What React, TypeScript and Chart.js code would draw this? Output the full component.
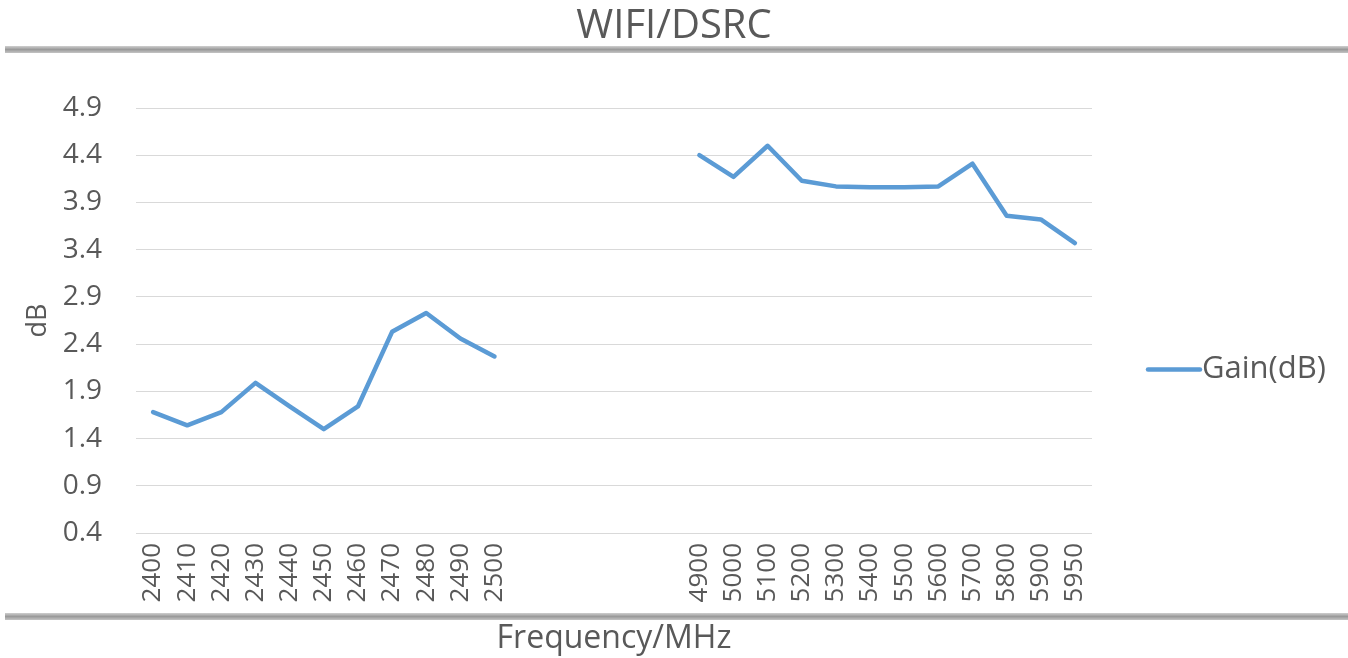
import React, { useEffect, useRef } from 'react';
import { Chart, registerables } from 'chart.js';

Chart.register(...registerables);

const TITLE = 'WIFI/DSRC';
const X_TITLE = 'Frequency/MHz';
const Y_TITLE = 'dB';
const SERIES_NAME = 'Gain(dB)';

const WIFI_FREQS = ['2400', '2410', '2420', '2430', '2440', '2450', '2460', '2470', '2480', '2490', '2500'];
const GAP_LABELS = ['', '', '', '', ''];
const DSRC_FREQS = ['4900', '5000', '5100', '5200', '5300', '5400', '5500', '5600', '5700', '5800', '5900', '5950'];

const WIFI_GAIN = [1.68, 1.54, 1.68, 1.99, 1.74, 1.5, 1.74, 2.53, 2.73, 2.46, 2.27];
const DSRC_GAIN = [4.4, 4.17, 4.5, 4.13, 4.07, 4.06, 4.06, 4.07, 4.31, 3.76, 3.72, 3.47];

const Y_MIN = 0.4;
const Y_MAX = 4.9;
const Y_STEP = 0.5;

const FONT = '"Open Sans", sans-serif';
const TEXT_COLOR = '#595959';
const LINE_COLOR = '#5b9bd5';
const GRID_COLOR = '#d9d9d9';

const W = 1348;
const H = 658;

const decorPlugin = {
  id: 'decor',
  beforeDraw(chart: any) {
    const ctx = chart.ctx;
    ctx.save();
    ctx.fillStyle = '#ffffff';
    ctx.fillRect(0, 0, chart.width, chart.height);
    const bar = (y0: number, h: number) => {
      const g = ctx.createLinearGradient(0, y0, 0, y0 + h);
      g.addColorStop(0, '#cfcfcf');
      g.addColorStop(0.5, '#9a9a9a');
      g.addColorStop(1, '#c4c4c4');
      ctx.fillStyle = g;
      ctx.fillRect(5, y0, chart.width - 5, h);
    };
    bar(46, 7);
    bar(613, 7);
    ctx.fillStyle = TEXT_COLOR;
    ctx.font = `40px ${FONT}`;
    ctx.textAlign = 'center';
    ctx.textBaseline = 'middle';
    ctx.fillText(TITLE, chart.width / 2, 27);
    ctx.restore();
  },
  afterDraw(chart: any) {
    const ctx = chart.ctx;
    const a = chart.chartArea;
    const y = a.top + (a.bottom - a.top) * 0.615;
    const x0 = a.right + 56;
    ctx.save();
    ctx.strokeStyle = LINE_COLOR;
    ctx.lineWidth = 4.5;
    ctx.lineCap = 'round';
    ctx.beginPath();
    ctx.moveTo(x0, y);
    ctx.lineTo(x0 + 52, y);
    ctx.stroke();
    ctx.fillStyle = TEXT_COLOR;
    ctx.font = `31px ${FONT}`;
    ctx.textAlign = 'left';
    ctx.textBaseline = 'middle';
    ctx.fillText(SERIES_NAME, x0 + 54, y);
    ctx.restore();
  },
};

export default function App() {
  const ref = useRef<HTMLCanvasElement | null>(null);

  useEffect(() => {
    if (!ref.current) return;
    const labels = [...WIFI_FREQS, ...GAP_LABELS, ...DSRC_FREQS];
    const data = [...WIFI_GAIN, ...GAP_LABELS.map(() => null), ...DSRC_GAIN];
    const chart = new Chart(ref.current, {
      type: 'line',
      data: {
        labels,
        datasets: [
          {
            label: SERIES_NAME,
            data,
            borderColor: LINE_COLOR,
            backgroundColor: LINE_COLOR,
            borderWidth: 4.5,
            pointRadius: 0,
            pointHoverRadius: 0,
            tension: 0,
            spanGaps: false,
            borderCapStyle: 'round',
            borderJoinStyle: 'round',
          },
        ],
      },
      options: {
        responsive: false,
        animation: false,
        layout: { padding: { top: 108, right: 256, bottom: 0, left: 0 } },
        plugins: {
          legend: { display: false },
          tooltip: { enabled: false },
          title: { display: false },
        },
        scales: {
          x: {
            offset: true,
            grid: { display: false, drawTicks: false },
            border: { display: false },
            ticks: {
              autoSkip: false,
              maxRotation: 90,
              minRotation: 90,
              padding: 10,
              color: TEXT_COLOR,
              font: { family: FONT, size: 26 },
            },
            title: {
              display: true,
              text: X_TITLE,
              color: TEXT_COLOR,
              font: { family: FONT, size: 32, lineHeight: 1.2 },
              padding: { top: 0, bottom: 0 },
            },
            afterFit(scale: any) {
              scale.height = 125;
            },
          },
          y: {
            min: Y_MIN,
            max: Y_MAX,
            grid: { color: GRID_COLOR, lineWidth: 1, drawTicks: false },
            border: { display: false },
            ticks: {
              stepSize: Y_STEP,
              padding: 34,
              color: TEXT_COLOR,
              font: { family: FONT, size: 28 },
              callback: (v: any) => Number(v).toFixed(1),
            },
            title: {
              display: true,
              text: Y_TITLE,
              color: TEXT_COLOR,
              font: { family: FONT, size: 27, lineHeight: 1.2 },
              padding: { top: 22, bottom: 0 },
            },
            afterFit(scale: any) {
              scale.width = 136;
            },
          },
        },
      },
      plugins: [decorPlugin],
    });
    return () => chart.destroy();
  }, []);

  return (
    <canvas
      ref={ref}
      width={W}
      height={H}
      style={{ position: 'absolute', left: 0, top: 0, width: W, height: H, display: 'block' }}
    />
  );
}
